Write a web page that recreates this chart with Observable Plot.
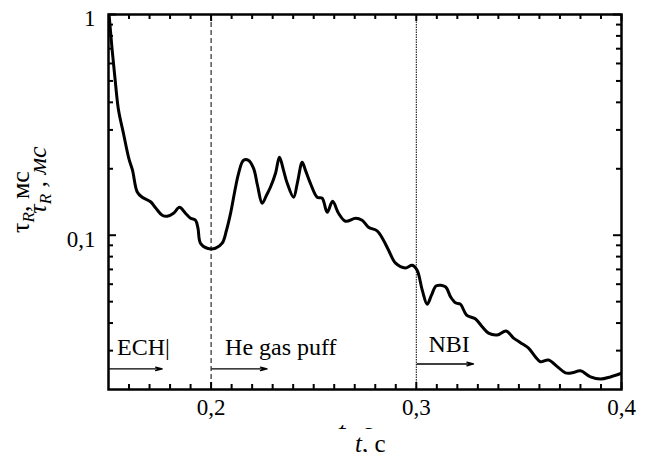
<!DOCTYPE html>
<html>
<head>
<meta charset="utf-8">
<script src="https://cdn.jsdelivr.net/npm/d3@7"></script>
<script src="https://cdn.jsdelivr.net/npm/@observablehq/plot@0.6"></script>
<style>
  html, body { margin: 0; padding: 0; background: #fff; }
  #chart { position: relative; width: 650px; height: 452px; overflow: hidden; background: #fff;
           font-family: 'Liberation Serif', 'Times New Roman', 'DejaVu Serif', serif; color: #000; }
  #chart svg, #chart svg text { font-family: 'Liberation Serif', 'Times New Roman', 'DejaVu Serif', serif; }
  #xcap { position: absolute; left: 0; width: 650px; top: 431px; font-size: 25px; line-height: 1;
          white-space: pre; }
  #xcap span.inner { position: absolute; left: 355px; }
</style>
</head>
<body>
<div id="chart"></div>
<script>
// ---- data ----
const time = [0.1502, 0.1518, 0.1534, 0.1549, 0.1573, 0.1599, 0.1617, 0.1640, 0.1664, 0.1705,
  0.1729, 0.1762, 0.1786, 0.1817, 0.1846, 0.1875, 0.1900, 0.1924, 0.1936, 0.1948,
  0.1981, 0.2021, 0.2054, 0.2075, 0.2095, 0.2134, 0.2158, 0.2182, 0.2207, 0.2226,
  0.2249, 0.2270, 0.2289, 0.2314, 0.2333, 0.2353, 0.2371, 0.2402, 0.2421, 0.2444,
  0.2460, 0.2484, 0.2517, 0.2541, 0.2566, 0.2592, 0.2621, 0.2655, 0.2704, 0.2736,
  0.2767, 0.2809, 0.2840, 0.2865, 0.2899, 0.2947, 0.2980, 0.3004, 0.3029, 0.3053,
  0.3074, 0.3098, 0.3142, 0.3167, 0.3191, 0.3215, 0.3245, 0.3289, 0.3321, 0.3352,
  0.3394, 0.3438, 0.3474, 0.3508, 0.3547, 0.3581, 0.3605, 0.3644, 0.3687, 0.3727,
  0.3760, 0.3800, 0.3849, 0.3898, 0.3946, 0.4000];
const tau = [1.02, 0.687, 0.487, 0.368, 0.289, 0.223, 0.197, 0.157, 0.1486, 0.1418,
  0.1331, 0.1232, 0.1219, 0.1258, 0.1338, 0.1258, 0.1194, 0.1169, 0.1076, 0.0920,
  0.0873, 0.0873, 0.0920, 0.1053, 0.1258, 0.1908, 0.2184, 0.2184, 0.2010, 0.1684,
  0.1396, 0.1517, 0.1649, 0.1908, 0.2254, 0.1968, 0.1719, 0.1486, 0.1737, 0.2139,
  0.1968, 0.1719, 0.1486, 0.1471, 0.1271, 0.1425, 0.1258, 0.1157, 0.1194, 0.1169,
  0.1087, 0.1046, 0.0949, 0.0855, 0.0747, 0.0711, 0.0731, 0.0694, 0.0564, 0.0487,
  0.0535, 0.0590, 0.0584, 0.0526, 0.0494, 0.0487, 0.0435, 0.0417, 0.0385, 0.0360,
  0.0353, 0.0368, 0.0342, 0.0326, 0.0308, 0.0281, 0.0267, 0.0272, 0.0254, 0.0238,
  0.0238, 0.0243, 0.0228, 0.0223, 0.0228, 0.0237];

const xDomain = [0.15, 0.4];
const yDomain = [0.02, 1];

const xMajorTicks = [0.2, 0.3, 0.4];
const xMajorLabels = ["0,2", "0,3", "0,4"];
const xMinorTicks = [0.16, 0.17, 0.18, 0.19, 0.21, 0.22, 0.23, 0.24, 0.25, 0.26, 0.27, 0.28, 0.29,
  0.31, 0.32, 0.33, 0.34, 0.35, 0.36, 0.37, 0.38, 0.39];
const yMajorTicks = [1, 0.1];
const yMajorLabels = ["1", "0,1"];
const yMinorTicks = [0.9, 0.8, 0.7, 0.6, 0.5, 0.4, 0.3, 0.2, 0.09, 0.08, 0.07, 0.06, 0.05, 0.04, 0.03];

// phase annotations
const phaseNames = ["ECH|", "He gas puff", "NBI"];
const phaseTextTime = [0.1542, 0.2068, 0.3059];
const phaseTextLevel = [0.0286, 0.0286, 0.0296];
const phaseArrowStart = [0.1500, 0.2004, 0.3004];
const phaseArrowEnd = [0.1762, 0.2273, 0.3279];
const phaseArrowLevel = [0.0248, 0.0248, 0.0261];

const gasPuffTime = [0.2];
const nbiTime = [0.3];

const xTitle = "t, c";

// ---- chart ----
const FONT = "'Liberation Serif', 'Times New Roman', 'DejaVu Serif', serif";
const idx = phaseNames.map((_, i) => i);

const plot = Plot.plot({
  width: 650,
  height: 429,
  marginLeft: 108,
  marginRight: 29,
  marginTop: 14,
  marginBottom: 40,
  style: `font-family: ${FONT}; background: #fff; color: #000; overflow: hidden;`,
  x: { domain: xDomain, axis: null },
  y: { type: "log", domain: yDomain, axis: null },
  marks: [
    // event lines
    Plot.ruleX(gasPuffTime, { x: d => d, stroke: "#000", strokeWidth: 1, strokeDasharray: "5,3" }),
    Plot.ruleX(nbiTime, { x: d => d, stroke: "#000", strokeWidth: 1, strokeDasharray: "1.5,1" }),
    // ticks: bottom / top
    Plot.ruleX(xMinorTicks, { x: d => d, y1: () => yDomain[0], y2: () => yDomain[0], insetBottom: 5, stroke: "#000", strokeWidth: 2 }),
    Plot.ruleX(xMajorTicks, { x: d => d, y1: () => yDomain[0], y2: () => yDomain[0], insetBottom: 7, stroke: "#000", strokeWidth: 2 }),
    Plot.ruleX(xMinorTicks, { x: d => d, y1: () => yDomain[1], y2: () => yDomain[1], insetTop: 5, stroke: "#000", strokeWidth: 2 }),
    Plot.ruleX(xMajorTicks, { x: d => d, y1: () => yDomain[1], y2: () => yDomain[1], insetTop: 7, stroke: "#000", strokeWidth: 2 }),
    // ticks: left / right
    Plot.ruleY(yMinorTicks, { y: d => d, x1: () => xDomain[0], x2: () => xDomain[0], insetLeft: 5, stroke: "#000", strokeWidth: 2 }),
    Plot.ruleY(yMajorTicks, { y: d => d, x1: () => xDomain[0], x2: () => xDomain[0], insetLeft: 8, stroke: "#000", strokeWidth: 2 }),
    Plot.ruleY(yMinorTicks, { y: d => d, x1: () => xDomain[1], x2: () => xDomain[1], insetRight: 5, stroke: "#000", strokeWidth: 2 }),
    Plot.ruleY(yMajorTicks, { y: d => d, x1: () => xDomain[1], x2: () => xDomain[1], insetRight: 8, stroke: "#000", strokeWidth: 2 }),
    // data curve
    Plot.line(time.map((t, i) => ({ t, v: tau[i] })), {
      x: "t", y: "v", curve: "catmull-rom", stroke: "#000", strokeWidth: 3, clip: true
    }),
    // frame
    Plot.frame({ stroke: "#000", strokeWidth: 2.5 }),
    // tick labels
    Plot.text(yMajorTicks, { x: () => xDomain[0], y: d => d, text: (d, i) => yMajorLabels[i],
      textAnchor: "end", dx: -13, dy: 4, fontSize: 23, fontFamily: FONT, fill: "#000" }),
    Plot.text(xMajorTicks, { x: d => d, y: () => yDomain[0], text: (d, i) => xMajorLabels[i],
      lineAnchor: "top", dy: 9, fontSize: 23, fontFamily: FONT, fill: "#000" }),
    // phase annotations
    Plot.text(idx, { x: i => phaseTextTime[i], y: i => phaseTextLevel[i], text: i => phaseNames[i],
      textAnchor: "start", lineAnchor: "bottom", fontSize: 24, fontFamily: FONT, fill: "#000" }),
    Plot.arrow(idx, { x1: i => phaseArrowStart[i], x2: i => phaseArrowEnd[i],
      y1: i => phaseArrowLevel[i], y2: i => phaseArrowLevel[i],
      stroke: "#000", strokeWidth: 1.3, headLength: 8, headAngle: 30 })
  ]
});

// axis titles (rich text with subscripts)
const svg = d3.select(plot);
// x title (upper copy, clipped by the SVG bottom edge)
svg.append("text")
  .attr("x", 355).attr("y", 442)
  .attr("text-anchor", "middle")
  .style("font-family", FONT).attr("font-size", 29).attr("font-style", "italic")
  .text(xTitle);

// y title, upright version
const yt1 = svg.append("text")
  .attr("transform", "translate(29,202) rotate(-90)")
  .attr("text-anchor", "middle")
  .style("font-family", FONT).attr("font-size", 26);
yt1.append("tspan").text("τ");
yt1.append("tspan").attr("font-style", "italic").attr("font-size", 17).attr("dy", 5).text("R");
yt1.append("tspan").attr("dy", -5).text(", мс");

// y title, italic version
const yt2 = svg.append("text")
  .attr("transform", "translate(46,180) rotate(-90)")
  .attr("text-anchor", "middle")
  .style("font-family", FONT).attr("font-size", 26).attr("font-style", "italic");
yt2.append("tspan").text("τ");
yt2.append("tspan").attr("font-size", 17).attr("dy", 5).text("R");
yt2.append("tspan").attr("dy", -5).text(" , мс");

const chart = document.getElementById("chart");
chart.appendChild(plot);

// lower x title copy, below the SVG
const cap = document.createElement("div");
cap.id = "xcap";
const inner = document.createElement("span");
inner.className = "inner";
const tPart = document.createElement("i");
tPart.textContent = xTitle.slice(0, 1);
inner.appendChild(tPart);
inner.appendChild(document.createTextNode(xTitle.slice(1)));
cap.appendChild(inner);
chart.appendChild(cap);
</script>
</body>
</html>
